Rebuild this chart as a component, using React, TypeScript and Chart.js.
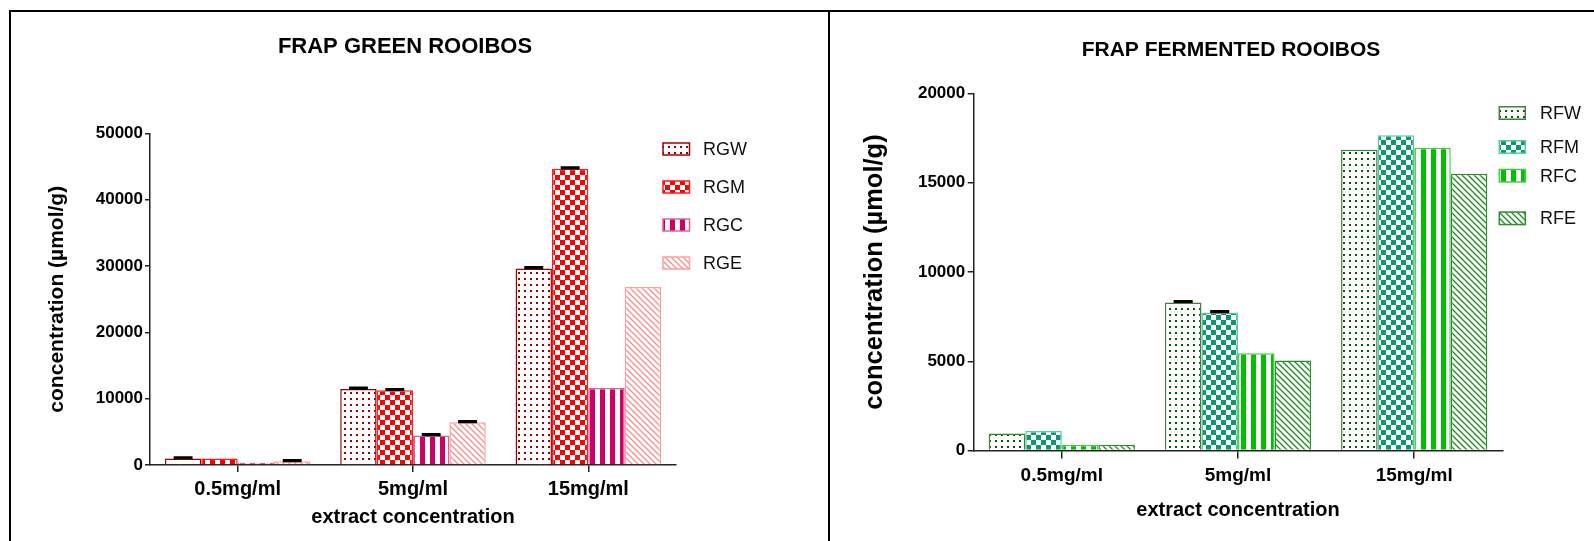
import React, { useEffect, useRef } from "react";
import { Chart, registerables } from "chart.js";

Chart.register(...registerables);

// ---------- data ----------
const categories = ["0.5mg/ml", "5mg/ml", "15mg/ml"];

const greenTitle = "FRAP GREEN ROOIBOS";
const greenSeries = ["RGW", "RGM", "RGC", "RGE"];
const rgw = [970, 11480, 29640];
const rgm = [990, 11270, 44690];
const rgc = [350, 4450, 11630];
const rge = [550, 6430, 26830];
const rgwErr = [120, 120, 120];
const rgmErr = [0, 120, 120];
const rgcErr = [0, 120, 0];
const rgeErr = [120, 120, 0];
const greenMax = 50000;
const greenStep = 10000;

const fermentedTitle = "FRAP FERMENTED ROOIBOS";
const fermentedSeries = ["RFW", "RFM", "RFC", "RFE"];
const rfw = [960, 8300, 16850];
const rfm = [1100, 7730, 17660];
const rfc = [325, 5450, 16960];
const rfe = [325, 5040, 15510];
const rfwErr = [0, 50, 0];
const rfmErr = [0, 50, 0];
const rfcErr = [0, 0, 0];
const rfeErr = [0, 0, 0];
const fermentedMax = 20000;
const fermentedStep = 5000;

const xTitle = "extract concentration";
const yTitle = "concentration (\u00b5mol/g)";

// ---------- styling ----------
const FONT = '"Liberation Sans", Arial, Helvetica, sans-serif';

type Kind = "dots" | "checker" | "vstripe" | "diag";

function makePattern(kind: Kind, color: string): CanvasPattern | string {
  const c = document.createElement("canvas");
  const s = kind === "checker" || kind === "vstripe" ? 10 : 6;
  c.width = s;
  c.height = s;
  const g = c.getContext("2d");
  if (!g) return color;
  g.fillStyle = "#ffffff";
  g.fillRect(0, 0, s, s);
  g.fillStyle = color;
  g.strokeStyle = color;
  if (kind === "dots") g.fillRect(2, 2, 2, 2);
  if (kind === "checker") {
    g.fillRect(0, 0, 5, 5);
    g.fillRect(5, 5, 5, 5);
  }
  if (kind === "vstripe") g.fillRect(0, 0, 5, s);
  if (kind === "diag") {
    g.lineWidth = 1.3;
    g.beginPath();
    g.moveTo(-1, -1);
    g.lineTo(s + 1, s + 1);
    g.moveTo(-1, s - 1);
    g.lineTo(1, s + 1);
    g.moveTo(s - 1, -1);
    g.lineTo(s + 1, 1);
    g.stroke();
  }
  const p = g.createPattern(c, "repeat");
  return p || color;
}

interface PanelSpec {
  title: string;
  titleX: number;
  titleY: number;
  titleSize: number;
  series: string[];
  values: number[][];
  errors: number[][];
  kinds: Kind[];
  fills: string[];
  borders: string[];
  yMax: number;
  yStep: number;
  width: number;
  chartTop: number;
  chartRightPad: number;
  yScaleWidth: number;
  xScaleHeight: number;
  yTickLen: number;
  yTickPad: number;
  xTickLen: number;
  xTickPad: number;
  xTickSize: number;
  xTitleSize: number;
  xTitlePadBottom: number;
  yTitleSize: number;
  yTitlePadTop: number;
  legendBoxX: number;
  legendBoxW: number;
  legendBoxH: number;
  legendTextX: number;
  legendYs: number[];
}

function buildChart(canvas: HTMLCanvasElement, p: PanelSpec): Chart {
  const patterns = p.kinds.map((k, i) => makePattern(k, p.fills[i]));
  const datasets = p.series.map((name, i) => ({
    label: name,
    data: p.values[i],
    backgroundColor: patterns[i] as any,
    borderColor: p.borders[i],
    borderWidth: 1.5,
    categoryPercentage: 0.83,
    barPercentage: 1.0,
  }));

  const decor = {
    id: "decor",
    afterDatasetsDraw(chart: Chart) {
      const ctx = chart.ctx;
      const yScale = chart.scales.y;
      ctx.save();
      ctx.strokeStyle = "#000";
      ctx.lineWidth = 3.2;
      p.errors.forEach((errs, i) => {
        const meta = chart.getDatasetMeta(i);
        meta.data.forEach((el: any, j: number) => {
          const e = errs[j];
          if (!e) return;
          const y = yScale.getPixelForValue(p.values[i][j] + e);
          const w = el.width * 0.52;
          ctx.beginPath();
          ctx.moveTo(el.x, yScale.getPixelForValue(p.values[i][j]));
          ctx.lineTo(el.x, y);
          ctx.moveTo(el.x - w / 2, y);
          ctx.lineTo(el.x + w / 2, y);
          ctx.stroke();
        });
      });
      ctx.restore();
    },
    afterDraw(chart: Chart) {
      const ctx = chart.ctx;
      ctx.save();
      ctx.fillStyle = "#000";
      ctx.font = `bold ${p.titleSize}px ${FONT}`;
      ctx.textAlign = "center";
      ctx.textBaseline = "middle";
      ctx.fillText(p.title, p.titleX, p.titleY);

      ctx.font = `18px ${FONT}`;
      ctx.textAlign = "left";
      p.series.forEach((name, i) => {
        const cy = p.legendYs[i];
        const top = cy - p.legendBoxH / 2;
        ctx.fillStyle = patterns[i] as any;
        ctx.fillRect(p.legendBoxX, top, p.legendBoxW, p.legendBoxH);
        ctx.strokeStyle = p.borders[i];
        ctx.lineWidth = 1.5;
        ctx.strokeRect(p.legendBoxX, top, p.legendBoxW, p.legendBoxH);
        ctx.fillStyle = "#111";
        ctx.fillText(name, p.legendTextX, cy + 1);
      });
      ctx.restore();
    },
  };

  return new Chart(canvas, {
    type: "bar",
    data: { labels: categories, datasets },
    plugins: [decor],
    options: {
      responsive: false,
      animation: false,
      devicePixelRatio: 1,
      layout: {
        padding: { left: 0, right: p.chartRightPad, top: p.chartTop, bottom: 0 },
      },
      plugins: {
        legend: { display: false },
        title: { display: false },
        tooltip: { enabled: false },
      },
      scales: {
        x: {
          grid: {
            display: true,
            drawOnChartArea: false,
            drawTicks: true,
            tickLength: p.xTickLen,
            offset: false,
            color: "#222",
            lineWidth: 1.5,
          },
          border: { display: true, color: "#222", width: 1.5 },
          ticks: {
            color: "#000",
            font: { family: FONT, size: p.xTickSize, weight: "bold" },
            padding: p.xTickPad,
            maxRotation: 0,
            autoSkip: false,
          },
          title: {
            display: true,
            text: xTitle,
            color: "#000",
            font: { family: FONT, size: p.xTitleSize, weight: "bold" },
            padding: { top: 0, bottom: p.xTitlePadBottom },
          },
          afterFit: (s: any) => {
            s.height = p.xScaleHeight;
          },
        } as any,
        y: {
          min: 0,
          max: p.yMax,
          grid: {
            display: true,
            drawOnChartArea: false,
            drawTicks: true,
            tickLength: p.yTickLen,
            color: "#222",
            lineWidth: 1.5,
          },
          border: { display: true, color: "#222", width: 1.5 },
          ticks: {
            stepSize: p.yStep,
            color: "#000",
            font: { family: FONT, size: 17, weight: "bold" },
            padding: p.yTickPad,
            callback: (v: any) => String(v),
          },
          title: {
            display: true,
            text: yTitle,
            color: "#000",
            font: { family: FONT, size: p.yTitleSize, weight: "bold" },
            padding: { top: p.yTitlePadTop, bottom: 0 },
          },
          afterFit: (s: any) => {
            s.width = p.yScaleWidth;
          },
        } as any,
      },
    },
  });
}

const greenPanel: PanelSpec = {
  title: greenTitle,
  titleX: 405,
  titleY: 46.5,
  titleSize: 22,
  series: greenSeries,
  values: [rgw, rgm, rgc, rge],
  errors: [rgwErr, rgmErr, rgcErr, rgeErr],
  kinds: ["dots", "checker", "vstripe", "diag"],
  fills: ["#9a0000", "#ff0000", "#cc0066", "#ff8a8a"],
  borders: ["#a00000", "#ff1a1a", "#e0609a", "#ff9f9f"],
  yMax: greenMax,
  yStep: greenStep,
  width: 829,
  chartTop: 133.5,
  chartRightPad: 153,
  yScaleWidth: 150,
  xScaleHeight: 76,
  yTickLen: 5,
  yTickPad: 2,
  xTickLen: 7,
  xTickPad: 5,
  xTickSize: 20,
  xTitleSize: 20,
  xTitlePadBottom: 11.4,
  yTitleSize: 21,
  yTitlePadTop: 45.1,
  legendBoxX: 663,
  legendBoxW: 26.5,
  legendBoxH: 12,
  legendTextX: 703,
  legendYs: [149, 187, 225, 263],
};

const fermentedPanel: PanelSpec = {
  title: fermentedTitle,
  titleX: 400,
  titleY: 50,
  titleSize: 21,
  series: fermentedSeries,
  values: [rfw, rfm, rfc, rfe],
  errors: [rfwErr, rfmErr, rfcErr, rfeErr],
  kinds: ["dots", "checker", "vstripe", "diag"],
  fills: ["#005a00", "#0a9a6a", "#00c000", "#228b22"],
  borders: ["#3f7f3f", "#5ac8a0", "#40d040", "#2e8b2e"],
  yMax: fermentedMax,
  yStep: fermentedStep,
  width: 763,
  chartTop: 93.5,
  chartRightPad: 91.7,
  yScaleWidth: 142.7,
  xScaleHeight: 90.4,
  yTickLen: 6,
  yTickPad: 2.5,
  xTickLen: 8,
  xTickPad: 5.5,
  xTickSize: 19,
  xTitleSize: 20,
  xTitlePadBottom: 18.3,
  yTitleSize: 25.5,
  yTitlePadTop: 28.7,
  legendBoxX: 668.3,
  legendBoxW: 26,
  legendBoxH: 12.5,
  legendTextX: 709,
  legendYs: [113, 147, 175.7, 218.3],
};

function Panel({ spec, left }: { spec: PanelSpec; left: number }) {
  const ref = useRef<HTMLCanvasElement | null>(null);
  useEffect(() => {
    if (!ref.current) return;
    const chart = buildChart(ref.current, spec);
    return () => chart.destroy();
  }, [spec]);
  return (
    <canvas
      ref={ref}
      width={spec.width}
      height={541}
      style={{
        position: "absolute",
        left,
        top: 0,
        width: spec.width,
        height: 541,
        display: "block",
      }}
    />
  );
}

export default function App() {
  const line = (l: number, t: number, w: number, h: number) => ({
    position: "absolute" as const,
    left: l,
    top: t,
    width: w,
    height: h,
    background: "#000",
  });
  return (
    <div
      style={{
        position: "absolute",
        left: 0,
        top: 0,
        width: 1594,
        height: 541,
        background: "#fff",
        overflow: "hidden",
      }}
    >
      <Panel spec={greenPanel} left={0} />
      <Panel spec={fermentedPanel} left={831} />
      <div style={line(9, 10, 1585, 2)} />
      <div style={line(9, 10, 2, 531)} />
      <div style={line(828, 10, 2, 531)} />
    </div>
  );
}
